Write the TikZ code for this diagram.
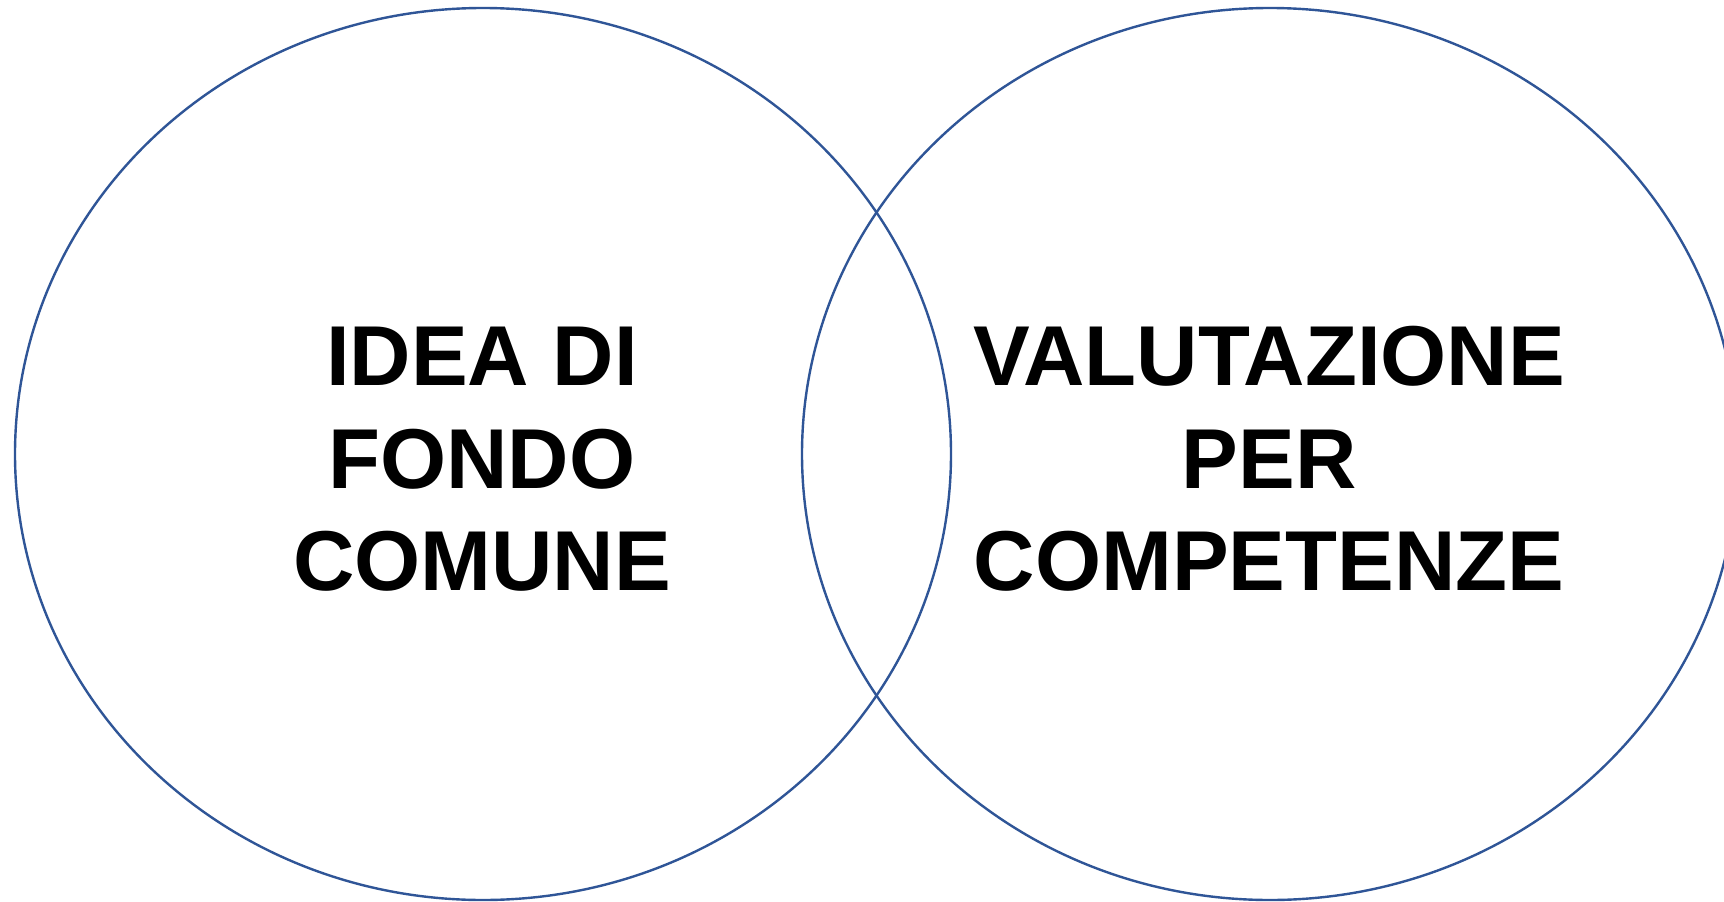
\documentclass[tikz,border=0pt]{standalone}
\usepackage{fontspec}
\setmainfont{Liberation Sans}
\definecolor{ringblue}{RGB}{47,85,151}
\tikzset{
  ring/.style={draw=ringblue, line width=2.4pt},
  lbl/.style={font=\fontsize{85}{102}\selectfont\bfseries, inner sep=0pt, anchor=base, text=black}
}
\begin{document}
\begin{tikzpicture}[x=1pt,y=-1pt]
\useasboundingbox (0,0) rectangle (1724,902);
\clip (0,0) rectangle (1724,902);
\fill[white] (0,0) rectangle (1724,902);
\coordinate (cl) at (483,454);
\coordinate (cr) at (1270,454);
\draw[ring] (cl) ellipse [x radius=468pt, y radius=446pt];
\draw[ring] (cr) ellipse [x radius=468pt, y radius=446pt];
\node[lbl] (l1) at (482,385) {IDEA DI};
\node[lbl] (l2) at (482,488) {FONDO};
\node[lbl] (l3) at (482,590) {COMUNE};
\node[lbl] (r1) at (1269,385) {VALUTAZIONE};
\node[lbl] (r2) at (1269,488) {PER};
\node[lbl] (r3) at (1269,590) {COMPETENZE};
\end{tikzpicture}
\end{document}
